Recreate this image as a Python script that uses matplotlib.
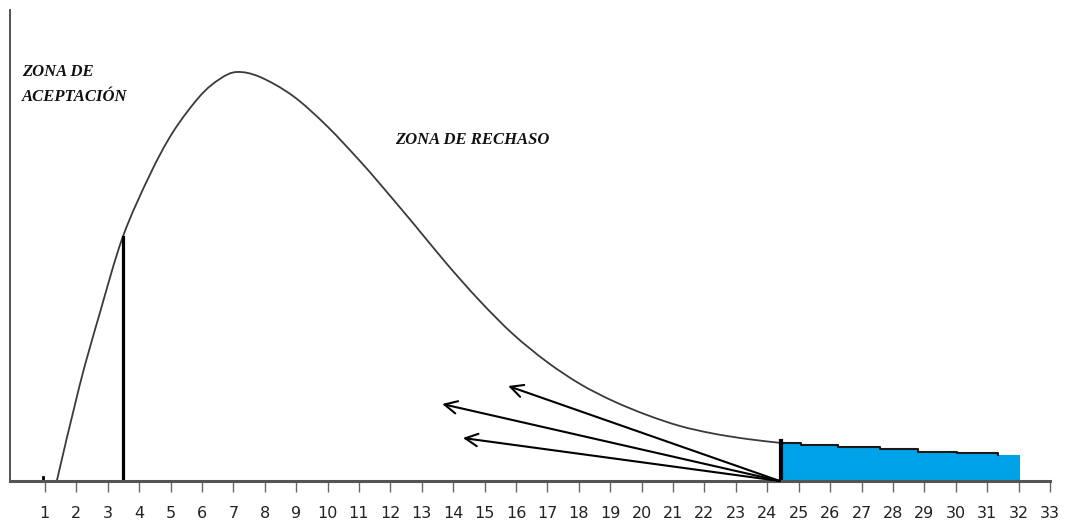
# Distribucion con zona de aceptacion y zona de rechazo (grafico dibujado a mano)

import numpy as np
import matplotlib.pyplot as plt
from matplotlib.path import Path
from matplotlib.patches import PathPatch

# Curva (x en unidades del eje, altura en unidades arbitrarias)
curva_x = [1.38, 2.11, 2.75, 3.48, 4.34, 5.08, 5.94, 6.57, 7.11, 7.85, 8.90,
           9.98, 11.03, 11.67, 12.72, 13.80, 14.85, 15.90, 16.99, 18.04, 19.09,
           20.17, 21.22, 22.27, 23.36, 24.45]
curva_y = [0, 96, 168, 244, 306, 349, 385, 402, 409, 404, 385,
           355, 320, 297, 258, 217, 180, 147, 119, 97, 80,
           66, 55, 47.5, 42, 38]

# Valores criticos (lineas verticales)
critico_izq = 3.48
critico_izq_alto = 244
critico_der = 24.45
critico_der_alto = 40

# Cola pintada de azul (escalones)
cola_x = [24.45, 25.07, 26.25, 27.59, 28.80, 30.04, 31.35, 32.05]
cola_y = [38, 36, 34, 32, 29, 28, 26, 26]

# Flechas: origen comun y puntas
flecha_origen = (24.4, 0)
flecha_puntas_x = [15.75, 13.65, 14.31]
flecha_puntas_y = [95, 77, 43]

ticks = list(range(1, 34))


def curva_suave(xs, ys):
    # Trazo suave que pasa por los puntos leidos (Bezier tipo Catmull-Rom)
    p = np.column_stack([xs, ys]).astype(float)
    p = np.vstack([p[0], p, p[-1]])
    verts = [p[1]]
    codes = [Path.MOVETO]
    for i in range(1, len(p) - 2):
        c1 = p[i] + (p[i + 1] - p[i - 1]) / 6
        c2 = p[i + 1] - (p[i + 2] - p[i]) / 6
        verts += [c1, c2, p[i + 1]]
        codes += [Path.CURVE4] * 3
    return Path(verts, codes)


fig = plt.figure(figsize=(10.68, 5.27), dpi=100)
ax = fig.add_axes([10 / 1068, 46 / 527, 1040 / 1068, 471 / 527])

# Curva
ax.add_patch(PathPatch(curva_suave(curva_x, curva_y), fill=False,
                       edgecolor='#3a3a3a', lw=1.3))
ax.plot([0.95, 0.95, 1.25], [4, 0, 0], color='black', lw=2)

# Cola azul con borde en escalones
ax.fill_between(cola_x, 0, cola_y, step='post', color='#00a2e8', lw=0)
ax.step(cola_x[:-1], cola_y[:-1], where='post', color='#1a1a1a', lw=1.5)

# Lineas de los valores criticos
ax.plot([critico_izq, critico_izq], [0, critico_izq_alto], color='black', lw=2.3)
ax.plot([critico_der, critico_der], [0, critico_der_alto], color='black', lw=3)

# Flechas
for px, py in zip(flecha_puntas_x, flecha_puntas_y):
    ax.annotate('', xy=(px, py), xytext=flecha_origen,
                arrowprops=dict(arrowstyle='->,head_length=0.9,head_width=0.45',
                                color='black', lw=1.5, shrinkA=0, shrinkB=0))

# Textos
fuente = dict(family='Liberation Serif', weight='bold', style='italic',
              fontsize=12, color='#111111')
ax.text(0.27, 409, 'ZONA DE', va='center', ha='left', **fuente)
ax.text(0.27, 384, 'ACEPTACIÓN', va='center', ha='left', **fuente)
ax.text(12.15, 341, 'ZONA DE RECHASO', va='center', ha='left', **fuente)

# Ejes
ax.set_xlim(-0.11, 33)
ax.set_ylim(0, 471)
ax.set_xticks(ticks)
ax.set_xticklabels([str(t) for t in ticks], fontsize=11.5, color='#222222',
                   family='DejaVu Sans')
ax.set_yticks([])
ax.tick_params(axis='x', direction='out', length=8, width=1, color='#666666', pad=10)
ax.spines['top'].set_visible(False)
ax.spines['right'].set_visible(False)
ax.spines['bottom'].set_color('#555555')
ax.spines['bottom'].set_linewidth(2.2)
ax.spines['left'].set_color('#444444')
ax.spines['left'].set_linewidth(1.3)
ax.patch.set_alpha(0)

fig.savefig('out.png', dpi=100)
